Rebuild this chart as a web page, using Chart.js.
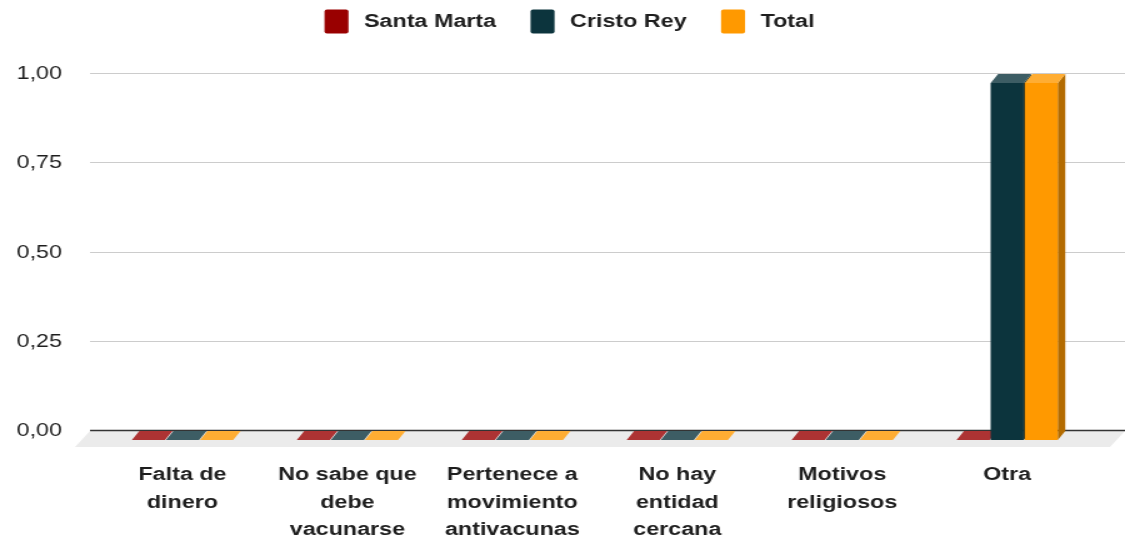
<!DOCTYPE html>
<html lang="es">
<head>
<meta charset="utf-8">
<title>Motivos para no vacunarse</title>
<script src="https://cdn.jsdelivr.net/npm/chart.js@4.4.1/dist/chart.umd.min.js"></script>
<style>
  html, body { margin: 0; padding: 0; background: #ffffff; }
  #chart { display: block; }
</style>
</head>
<body>
<!-- the drawing surface is 900 px wide and shown widened to 1125 px -->
<canvas id="chart" width="900" height="539" style="width:1125px;height:539px;"></canvas>
<script>
// ---- data ----
const categories = [
  ['Falta de', 'dinero'],
  ['No sabe que', 'debe', 'vacunarse'],
  ['Pertenece a', 'movimiento', 'antivacunas'],
  ['No hay', 'entidad', 'cercana'],
  ['Motivos', 'religiosos'],
  ['Otra']
];
const seriesNames = ['Santa Marta', 'Cristo Rey', 'Total'];
const santaMarta = [0, 0, 0, 0, 0, 0];
const cristoRey  = [0, 0, 0, 0, 0, 1];
const total      = [0, 0, 0, 0, 0, 1];
const yTickValues = [0, 0.25, 0.5, 0.75, 1];
const yTickLabels = ['0,00', '0,25', '0,50', '0,75', '1,00'];

// ---- styles ----
const frontColors = ['#990000', '#0c343d', '#ff9900'];   // front faces / legend
const topColors   = ['#ad3333', '#3d5d64', '#ffad33'];   // lit top faces
const sideColors  = ['#6b0000', '#08252b', '#b36b00'];   // shaded right faces

const FONT = '"Liberation Sans", Arial, Helvetica, sans-serif';
const FONT_SIZE = 18.67;
const TEXT_COLOR = '#1e1e1e';
const DEPTH_X = 6, DEPTH_Y = 9;     // bar extrusion toward the back wall
const FLOOR_X = 12, FLOOR_Y = 16;   // floor slab depth
const WALL_LEFT = 72;               // left end of the back-wall grid lines

// 3D floor, back-wall grid lines and extruded bars
const bars3d = {
  id: 'bars3d',
  beforeDatasetsDraw(chart) {
    const { ctx, scales: { y } } = chart;
    const zero = y.getPixelForValue(0);
    const right = chart.width;
    ctx.save();

    // floor slab
    ctx.fillStyle = '#ebebeb';
    ctx.beginPath();
    ctx.moveTo(WALL_LEFT, zero);
    ctx.lineTo(right, zero);
    ctx.lineTo(right - FLOOR_X, zero + FLOOR_Y);
    ctx.lineTo(WALL_LEFT - FLOOR_X, zero + FLOOR_Y);
    ctx.closePath();
    ctx.fill();

    // grid lines on the back wall
    y.ticks.forEach(t => {
      const py = Math.round(y.getPixelForValue(t.value)) - 0.5;
      ctx.beginPath();
      ctx.strokeStyle = t.value === 0 ? '#333333' : '#cccccc';
      ctx.lineWidth = t.value === 0 ? 1.6 : 1.2;
      ctx.moveTo(WALL_LEFT, py);
      ctx.lineTo(right, py);
      ctx.stroke();
    });

    // bars, painted left to right so the nearer faces cover the sides
    const metas = chart.data.datasets.map((d, i) => chart.getDatasetMeta(i));
    for (let c = 0; c < categories.length; c++) {
      metas.forEach((meta, s) => {
        const bar = meta.data[c];
        if (!bar) return;
        const { x, y: yv, base, width } = bar.getProps(['x', 'y', 'base', 'width'], true);
        const x0 = x - width / 2, x1 = x + width / 2;
        const top = yv + DEPTH_Y, bottom = base + DEPTH_Y;
        if (bottom - top > 0.5) {
          // right side
          ctx.fillStyle = sideColors[s];
          ctx.beginPath();
          ctx.moveTo(x1, top);
          ctx.lineTo(x1 + DEPTH_X, top - DEPTH_Y);
          ctx.lineTo(x1 + DEPTH_X, bottom - DEPTH_Y);
          ctx.lineTo(x1, bottom);
          ctx.closePath();
          ctx.fill();
          // front
          ctx.fillStyle = frontColors[s];
          ctx.fillRect(x0, top, width, bottom - top);
        }
        // top
        ctx.fillStyle = topColors[s];
        ctx.beginPath();
        ctx.moveTo(x0, top);
        ctx.lineTo(x1, top);
        ctx.lineTo(x1 + DEPTH_X, top - DEPTH_Y);
        ctx.lineTo(x0 + DEPTH_X, top - DEPTH_Y);
        ctx.closePath();
        ctx.fill();
      });
    }
    ctx.restore();
    return false;
  }
};

// single-row legend above the plot
const LEGEND_CENTER = 455.6, LEGEND_MID_Y = 21.5;
const BOX_W = 19.2, BOX_H = 24, BOX_GAP = 12.4, ITEM_GAP = 27.5;
const legendRow = {
  id: 'legendRow',
  afterDraw(chart) {
    const { ctx } = chart;
    ctx.save();
    ctx.font = `bold ${FONT_SIZE}px ${FONT}`;
    const items = chart.data.datasets.map(d => ({
      text: d.label, color: d.backgroundColor, w: ctx.measureText(d.label).width
    }));
    const full = items.reduce((a, it) => a + BOX_W + BOX_GAP + it.w, 0) + ITEM_GAP * (items.length - 1);
    let x = LEGEND_CENTER - full / 2;
    ctx.textBaseline = 'middle';
    ctx.textAlign = 'left';
    items.forEach(it => {
      ctx.fillStyle = it.color;
      ctx.beginPath();
      ctx.roundRect(x, LEGEND_MID_Y - BOX_H / 2, BOX_W, BOX_H, 2);
      ctx.fill();
      x += BOX_W + BOX_GAP;
      ctx.fillStyle = TEXT_COLOR;
      ctx.fillText(it.text, x, LEGEND_MID_Y);
      x += it.w + ITEM_GAP;
    });
    ctx.restore();
  }
};

const seriesValues = [santaMarta, cristoRey, total];

new Chart(document.getElementById('chart'), {
  type: 'bar',
  data: {
    labels: categories,
    datasets: seriesNames.map((name, i) => ({
      label: name,
      data: seriesValues[i],
      backgroundColor: frontColors[i],
      borderWidth: 0,
      categoryPercentage: 0.62,
      barPercentage: 0.97
    }))
  },
  options: {
    responsive: false,
    animation: false,
    devicePixelRatio: 1,
    layout: { padding: { top: 74, right: 28.3, bottom: 0, left: 0 } },
    plugins: {
      legend: { display: false },
      tooltip: { enabled: false }
    },
    scales: {
      x: {
        offset: true,
        grid: { display: false, drawTicks: false },
        border: { display: false },
        afterFit: s => { s.height = 108; },
        ticks: {
          autoSkip: false,
          maxRotation: 0,
          minRotation: 0,
          padding: 30.25,
          color: TEXT_COLOR,
          font: { family: FONT, size: FONT_SIZE, weight: 'bold', lineHeight: 1.473 }
        }
      },
      y: {
        min: 0,
        max: 1,
        grid: { display: false, drawTicks: false },
        border: { display: false },
        afterFit: s => { s.width = 80; },
        afterBuildTicks: s => { s.ticks = yTickValues.map(v => ({ value: v })); },
        ticks: {
          padding: 30.4,
          color: TEXT_COLOR,
          font: { family: FONT, size: FONT_SIZE },
          callback: (v) => yTickLabels[yTickValues.indexOf(v)]
        }
      }
    }
  },
  plugins: [bars3d, legendRow]
});
</script>
</body>
</html>
